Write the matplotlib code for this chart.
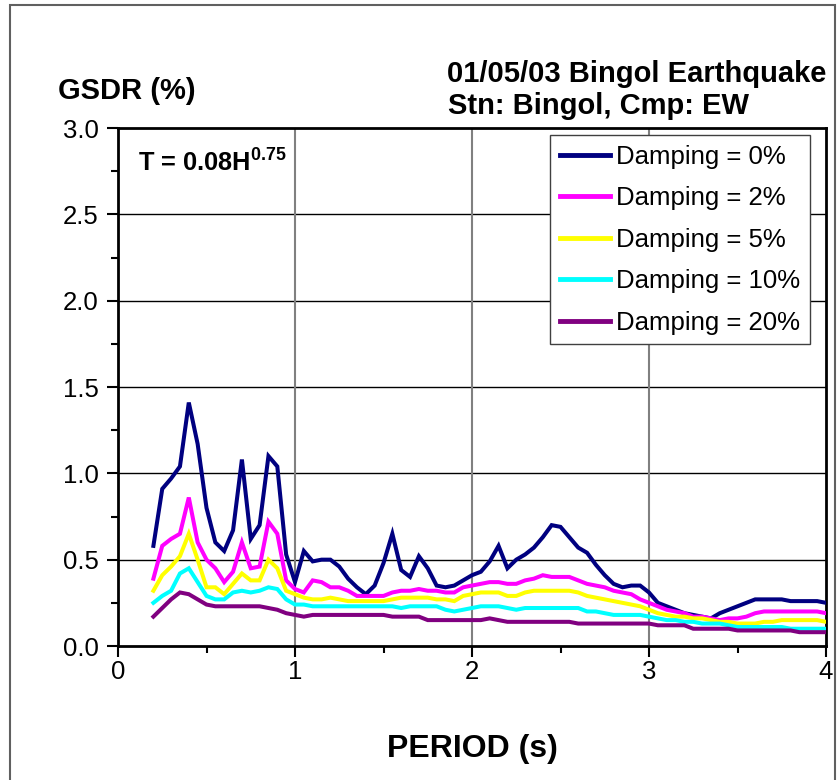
import numpy as np
import matplotlib
matplotlib.use("Agg")
import matplotlib.pyplot as plt
from matplotlib.patches import Rectangle
from matplotlib.ticker import MultipleLocator, FormatStrFormatter

plt.rcParams['font.family'] = ['Liberation Sans', 'DejaVu Sans']
plt.rcParams['mathtext.fontset'] = 'custom'
plt.rcParams['mathtext.rm'] = 'Liberation Sans'
plt.rcParams['mathtext.bf'] = 'Liberation Sans:bold'

# Period grid (s): 0.20 ... 4.00 every 0.05 s
period = np.linspace(0.2, 4.0, 77)

damp_0 = [0.58, 0.91, 0.97, 1.04, 1.41, 1.17, 0.80, 0.60, 0.55, 0.67, 1.08, 0.62, 0.70, 1.10, 1.04, 0.53,
          0.37, 0.55, 0.49, 0.50, 0.50, 0.46, 0.39, 0.34, 0.30, 0.35, 0.48, 0.65, 0.44, 0.40, 0.52, 0.45, 0.35, 0.34, 0.35, 0.38,
          0.41, 0.43, 0.49, 0.58, 0.45, 0.50, 0.53, 0.57, 0.63, 0.70, 0.69, 0.63, 0.57, 0.54, 0.47, 0.41, 0.36, 0.34, 0.35, 0.35,
          0.31, 0.25, 0.23, 0.21, 0.19, 0.18, 0.17, 0.16, 0.19, 0.21, 0.23, 0.25, 0.27, 0.27, 0.27, 0.27, 0.26, 0.26, 0.26, 0.26,
          0.25]
damp_2 = [0.39, 0.58, 0.62, 0.65, 0.86, 0.60, 0.50, 0.45, 0.37, 0.43, 0.60, 0.45, 0.46, 0.72, 0.65, 0.38,
          0.33, 0.31, 0.38, 0.37, 0.34, 0.34, 0.32, 0.29, 0.29, 0.29, 0.29, 0.31, 0.32, 0.32, 0.33, 0.32, 0.32, 0.31, 0.31, 0.34,
          0.35, 0.36, 0.37, 0.37, 0.36, 0.36, 0.38, 0.39, 0.41, 0.40, 0.40, 0.40, 0.38, 0.36, 0.35, 0.34, 0.32, 0.31, 0.30, 0.27,
          0.25, 0.23, 0.21, 0.20, 0.19, 0.17, 0.17, 0.16, 0.15, 0.16, 0.16, 0.17, 0.19, 0.20, 0.20, 0.20, 0.20, 0.20, 0.20, 0.20,
          0.19]
damp_5 = [0.32, 0.41, 0.46, 0.52, 0.65, 0.50, 0.34, 0.34, 0.30, 0.36, 0.42, 0.38, 0.38, 0.50, 0.45, 0.32,
          0.30, 0.28, 0.27, 0.27, 0.28, 0.27, 0.26, 0.26, 0.26, 0.26, 0.26, 0.27, 0.28, 0.28, 0.28, 0.28, 0.27, 0.27, 0.26, 0.29,
          0.30, 0.31, 0.31, 0.31, 0.29, 0.29, 0.31, 0.32, 0.32, 0.32, 0.32, 0.32, 0.31, 0.29, 0.28, 0.27, 0.26, 0.25, 0.24, 0.23,
          0.21, 0.19, 0.18, 0.17, 0.17, 0.16, 0.16, 0.15, 0.14, 0.14, 0.13, 0.13, 0.13, 0.14, 0.14, 0.15, 0.15, 0.15, 0.15, 0.15,
          0.14]
damp_10 = [0.25, 0.29, 0.32, 0.42, 0.45, 0.37, 0.29, 0.27, 0.27, 0.31, 0.32, 0.31, 0.32, 0.34, 0.33, 0.27,
           0.24, 0.24, 0.23, 0.23, 0.23, 0.23, 0.23, 0.23, 0.23, 0.23, 0.23, 0.23, 0.22, 0.23, 0.23, 0.23, 0.23, 0.21, 0.20, 0.21,
           0.22, 0.23, 0.23, 0.23, 0.22, 0.21, 0.22, 0.22, 0.22, 0.22, 0.22, 0.22, 0.22, 0.20, 0.20, 0.19, 0.18, 0.18, 0.18, 0.18,
           0.17, 0.16, 0.15, 0.15, 0.14, 0.14, 0.13, 0.13, 0.13, 0.12, 0.11, 0.11, 0.11, 0.11, 0.11, 0.11, 0.10, 0.10, 0.10, 0.10,
           0.10]
damp_20 = [0.17, 0.22, 0.27, 0.31, 0.30, 0.27, 0.24, 0.23, 0.23, 0.23, 0.23, 0.23, 0.23, 0.22, 0.21, 0.19,
           0.18, 0.17, 0.18, 0.18, 0.18, 0.18, 0.18, 0.18, 0.18, 0.18, 0.18, 0.17, 0.17, 0.17, 0.17, 0.15, 0.15, 0.15, 0.15, 0.15,
           0.15, 0.15, 0.16, 0.15, 0.14, 0.14, 0.14, 0.14, 0.14, 0.14, 0.14, 0.14, 0.13, 0.13, 0.13, 0.13, 0.13, 0.13, 0.13, 0.13,
           0.13, 0.12, 0.12, 0.12, 0.12, 0.10, 0.10, 0.10, 0.10, 0.10, 0.09, 0.09, 0.09, 0.09, 0.09, 0.09, 0.09, 0.08, 0.08, 0.08,
           0.08]

series = [damp_0, damp_2, damp_5, damp_10, damp_20]
labels = ["Damping = 0%", "Damping = 2%", "Damping = 5%", "Damping = 10%", "Damping = 20%"]
colors = ["#000080", "#FF00FF", "#FFFF00", "#00FFFF", "#800080"]

W, H = 838, 780
fig = plt.figure(figsize=(W / 100, H / 100), dpi=100)
ax = fig.add_axes([118 / W, 1 - 646 / H, (826 - 118) / W, (646 - 128) / H])

for ys, lab, c in zip(series, labels, colors):
    ax.plot(period, ys, color=c, lw=2.9, label=lab, solid_joinstyle='miter', zorder=3)

ax.set_xlim(0, 4)
ax.set_ylim(0, 3)
ax.xaxis.set_major_locator(MultipleLocator(1))
ax.xaxis.set_minor_locator(MultipleLocator(0.5))
ax.yaxis.set_major_locator(MultipleLocator(0.5))
ax.yaxis.set_minor_locator(MultipleLocator(0.25))
ax.yaxis.set_major_formatter(FormatStrFormatter('%.1f'))
ax.xaxis.set_major_formatter(FormatStrFormatter('%d'))

ax.tick_params(axis='both', which='major', direction='out', length=8, width=1.5,
               labelsize=18.5, colors='black')
ax.tick_params(axis='both', which='minor', direction='out', length=5, width=1.5)
ax.tick_params(axis='x', which='major', pad=2)
ax.tick_params(axis='y', which='major', pad=6)

for y in [0.5, 1.0, 1.5, 2.0, 2.5]:
    ax.axhline(y, color='black', lw=1.0, zorder=1)
for x in [1, 2, 3]:
    ax.axvline(x, color='#808080', lw=1.5, zorder=1)

for s in ax.spines.values():
    s.set_color('black')
    s.set_linewidth(2.0)

fig.text(472 / W, 1 - 757 / H, "PERIOD (s)", fontsize=23, fontweight='bold', ha='center', va='baseline')
fig.text(58 / W, 1 - 99 / H, "GSDR (%)", fontsize=21, fontweight='bold', ha='left', va='baseline')
fig.text(826 / W, 1 - 82 / H, "01/05/03 Bingol Earthquake", fontsize=21, fontweight='bold',
         ha='right', va='baseline')
fig.text(448 / W, 1 - 114 / H, "Stn: Bingol, Cmp: EW", fontsize=21, fontweight='bold',
         ha='left', va='baseline')
ax.text((138 - 118) / (826 - 118), (646 - 172) / (646 - 128),
        r"T = 0.08H$^{\mathbf{0.75}}$", transform=ax.transAxes, fontsize=18.3, fontweight='bold',
        ha='left', va='baseline', zorder=4)

leg = ax.legend(loc='upper right', bbox_to_anchor=((810 - 118) / (826 - 118), (646 - 135) / (646 - 128)),
                borderaxespad=0, fontsize=18.5, frameon=True, fancybox=False, framealpha=1,
                edgecolor='#404040', handlelength=1.95, handletextpad=0.25, labelspacing=0.68,
                borderpad=0.38)
leg.get_frame().set_linewidth(1.0)
for l in leg.get_lines():
    l.set_linewidth(3.5)

fig.patches.append(Rectangle((10 / W, -0.01), (835 - 10) / W, 1.01 - 5 / H, transform=fig.transFigure,
                             fill=False, edgecolor='#606060', lw=1.5))

fig.savefig("out.png", dpi=100)
